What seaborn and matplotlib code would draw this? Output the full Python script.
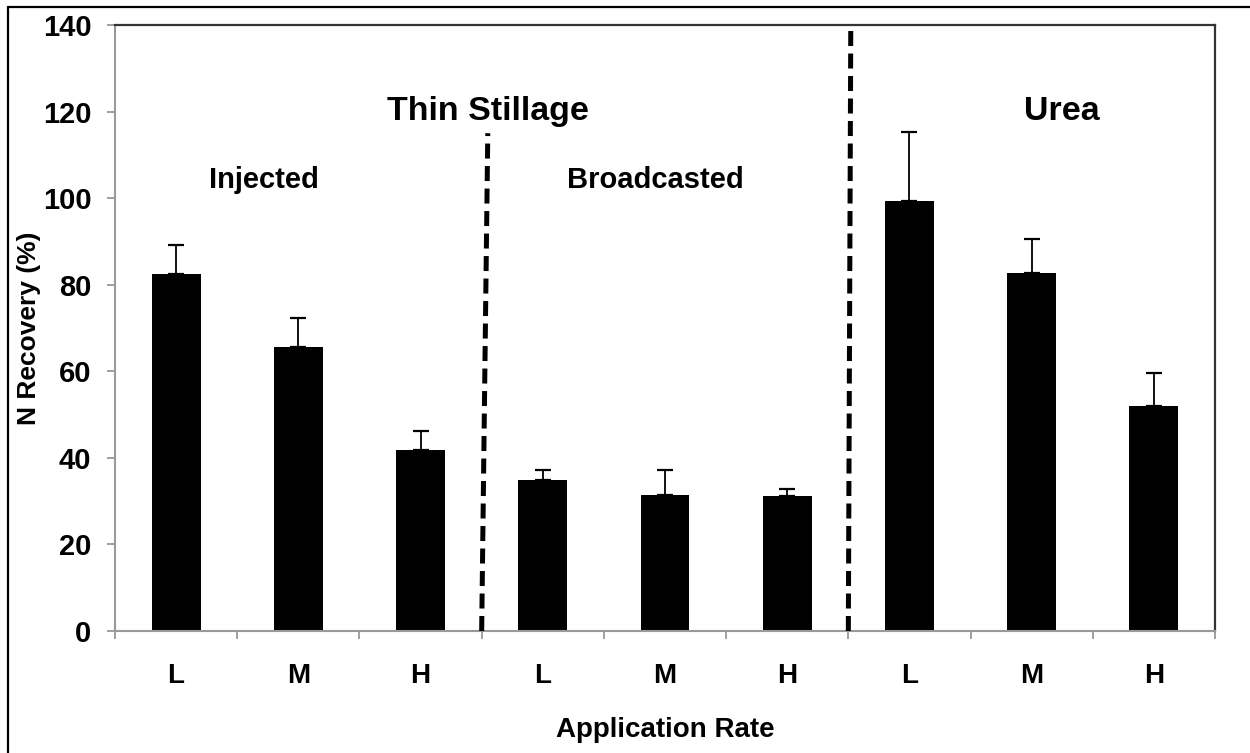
import numpy as np
import pandas as pd
import matplotlib.pyplot as plt
import seaborn as sns
from matplotlib.lines import Line2D

# ==========================
# DATOS
# ==========================
groups = ["Injected", "Broadcasted", "Urea"]
rates = ["L", "M", "H"]
recovery = [82.5, 65.7, 41.8, 34.9, 31.5, 31.3, 99.3, 82.6, 51.9]
err_up = [6.7, 6.5, 4.4, 2.3, 5.7, 1.4, 16.0, 7.9, 7.7]

df = pd.DataFrame({
    "group": np.repeat(groups, len(rates)),
    "rate": rates * len(groups),
    "recovery": recovery,
    "err": err_up,
})
df["pos"] = np.arange(len(df))

# ==========================
# ESTILO
# ==========================
sns.set_theme(style="white")
plt.rcParams["font.family"] = ["Liberation Sans", "DejaVu Sans"]
plt.rcParams["font.weight"] = "bold"
plt.rcParams["axes.labelweight"] = "bold"
plt.rcParams["text.color"] = "black"
plt.rcParams["axes.labelcolor"] = "black"

fig = plt.figure(figsize=(12.5, 7.53), dpi=100)
ax = fig.add_axes([0.092, 0.162, 0.88, 0.8048])

# Barras + error (solo hacia arriba)
sns.barplot(data=df, x="pos", y="recovery", color="black", saturation=1,
            width=0.4, errorbar=None, linewidth=0, ax=ax)
ax.errorbar(df["pos"], df["recovery"], yerr=[np.zeros(len(df)), df["err"]],
            fmt="none", ecolor="black", elinewidth=1.3, capsize=5.5,
            capthick=1.6, zorder=3)

# Ejes
ax.set_xlim(-0.5, len(df) - 0.5)
ax.set_ylim(0, 140)
ax.set_yticks(np.arange(0, 141, 20))
ax.set_xticks(df["pos"])
ax.set_xticklabels(df["rate"])
ax.set_xticks(np.arange(-0.5, len(df)), minor=True)
ax.tick_params(axis="x", which="major", length=0, pad=23, labelsize=20,
               labelcolor="black")
ax.tick_params(axis="x", which="minor", length=6, width=1.3, color="#999999",
               direction="out", bottom=True)
ax.tick_params(axis="y", length=6, width=1.3, color="#999999", direction="out",
               left=True, pad=11, labelsize=21, labelcolor="black")
ax.set_xlabel("Application Rate", fontsize=20, labelpad=20)
ax.set_ylabel("N Recovery (%)", fontsize=19, labelpad=1)

for side in ["left", "bottom"]:
    ax.spines[side].set_color("#999999")
    ax.spines[side].set_linewidth(1.5)
for side in ["top", "right"]:
    ax.spines[side].set_color("#333333")
    ax.spines[side].set_linewidth(1.6)

# Separadores entre grupos
b1 = len(rates) - 0.5
b2 = 2 * len(rates) - 0.5
ax.plot([b1, b1 + 0.05], [0, 115], color="black", lw=3.6,
        dashes=(3, 1.5), zorder=4, clip_on=False)
ax.plot([b2, b2 + 0.02], [0, 140], color="black", lw=3.6,
        dashes=(3, 1.5), zorder=4, clip_on=False)

# Rótulos de grupo
ax.text(2.55, 118, "Thin Stillage", ha="center", va="baseline",
        fontsize=24.5, fontweight="bold")
ax.text(7.25, 118, "Urea", ha="center", va="baseline",
        fontsize=24.5, fontweight="bold")
ax.text(0.72, 102.4, "Injected", ha="center", va="baseline",
        fontsize=21, fontweight="bold")
ax.text(3.92, 102.4, "Broadcasted", ha="center", va="baseline",
        fontsize=21, fontweight="bold")

# Marco de la figura (izquierda y arriba)
fig.add_artist(Line2D([8 / 1250, 8 / 1250], [0, 1 - 7 / 753], color="black", lw=1.6))
fig.add_artist(Line2D([8 / 1250, 1], [1 - 7 / 753, 1 - 7 / 753], color="black", lw=1.6))

fig.savefig("out.png", dpi=100)
